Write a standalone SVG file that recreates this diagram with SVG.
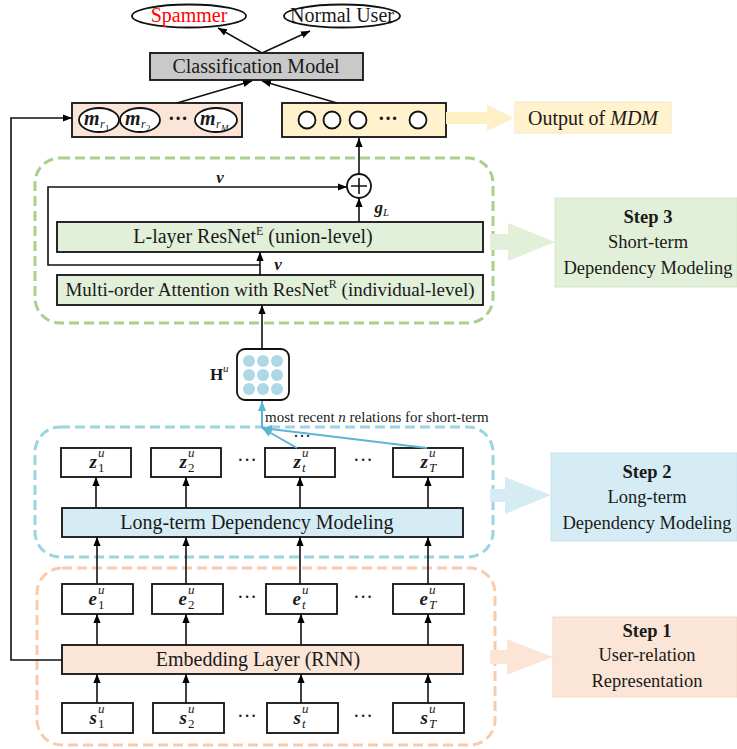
<svg xmlns="http://www.w3.org/2000/svg" width="737" height="749" viewBox="0 0 737 749" font-family="'Liberation Serif', 'DejaVu Serif', 'Times New Roman', serif">
<defs>
<marker id="ah" viewBox="0 0 10 10" refX="10" refY="5" markerWidth="9" markerHeight="9" markerUnits="userSpaceOnUse" orient="auto"><path d="M0,1 L10,5 L0,9 z" fill="#000"/></marker>
<marker id="ahb" viewBox="0 0 10 10" refX="10" refY="5" markerWidth="10" markerHeight="10" markerUnits="userSpaceOnUse" orient="auto"><path d="M0,1 L10,5 L0,9 z" fill="#5bb5d5"/></marker>
</defs>
<style>
text{font-family:'Liberation Serif','DejaVu Serif','Times New Roman',serif;fill:#1a1a1a}
.lb{font-size:20px;text-anchor:middle}
.st{font-size:18.5px;text-anchor:middle}
.stb{font-size:18.5px;text-anchor:middle;font-weight:bold}
.box{stroke:#111;stroke-width:1.8}
.w{fill:#fff}
.mi{font-size:19px;font-weight:bold;font-style:italic;text-anchor:end}
.mm{font-size:20px;font-weight:bold;font-style:italic}
.sc{font-size:13px;text-anchor:start}
.it{font-style:italic}
.dots{font-size:20px;text-anchor:middle}
.ln{stroke:#111;stroke-width:1.6;fill:none}
.bl{stroke:#5bb5d5;stroke-width:2;fill:none}
.cont{fill:none;stroke-width:3;stroke-dasharray:10 5}
</style>
<rect width="737" height="749" fill="#fff"/>

<!-- containers -->
<g id="container-step3"><rect x="35" y="158" width="458" height="165" rx="25" class="cont" stroke="#a9d18e"/></g>
<g id="container-step2"><rect x="35" y="427" width="458" height="130" rx="25" class="cont" stroke="#9dd3e5"/></g>
<g id="container-step1"><rect x="37" y="568" width="458" height="177" rx="25" class="cont" stroke="#f8cbad"/></g>

<!-- top outputs -->
<g id="spammer"><ellipse cx="189" cy="16" rx="57" ry="11.5" class="box w"/><text x="189" y="22" class="lb" style="fill:#f00">Spammer</text></g>
<g id="normal-user"><ellipse cx="342" cy="16" rx="58" ry="11.5" class="box w"/><text x="342" y="22" class="lb">Normal User</text></g>
<g id="classification-model"><rect x="150" y="53" width="213" height="27" class="box" fill="#c9c9c9"/><text x="256" y="73" class="lb">Classification Model</text></g>

<g id="m-vector"><rect x="72" y="103" width="170" height="34" class="box" fill="#fbe5d6"/>
<ellipse cx="99" cy="120" rx="20" ry="12" class="box w" stroke-width="1.5"/>
<ellipse cx="140" cy="120" rx="20" ry="12" class="box w" stroke-width="1.5"/>
<ellipse cx="216" cy="120" rx="21" ry="12" class="box w" stroke-width="1.5"/>
<text x="84" y="125" class="mm">m</text><text x="100" y="128" class="it" style="font-size:12px">r</text><text x="105" y="131" style="font-size:9px">1</text>
<text x="125" y="125" class="mm">m</text><text x="141" y="128" class="it" style="font-size:12px">r</text><text x="146" y="131" style="font-size:9px">2</text>
<text x="200" y="125" class="mm">m</text><text x="216" y="128" class="it" style="font-size:12px">r</text><text x="221" y="131" class="it" style="font-size:9px">M</text>
<text x="178" y="125" class="dots" style="font-weight:bold">···</text>
</g>

<g id="mdm-output"><rect x="282" y="103" width="164" height="34" class="box" fill="#fff2cc"/>
<circle cx="307" cy="120" r="8.5" class="box w" stroke-width="1.5"/>
<circle cx="332" cy="120" r="8.5" class="box w" stroke-width="1.5"/>
<circle cx="358" cy="120" r="8.5" class="box w" stroke-width="1.5"/>
<circle cx="418" cy="120" r="8.5" class="box w" stroke-width="1.5"/>
<text x="388" y="125" class="dots" style="font-weight:bold">···</text>
</g>

<g id="output-label">
<polygon points="446,112 487,112 487,105 514,118 487,131 487,124 446,124" fill="#fdf0c4"/>
<rect x="515" y="102" width="156" height="31" fill="#fff2cc" stroke="#f3e8c4" stroke-width="1"/>
<text x="593" y="125" class="lb">Output of <tspan class="it">MDM</tspan></text>
</g>

<!-- step 3 -->
<g id="plus"><circle cx="359" cy="186" r="12" class="box w" stroke-width="1.6"/><path d="M351,186 H367 M359,178 V194" class="ln" stroke-width="2"/></g>
<g id="l-layer-resnet"><rect x="57" y="222" width="426" height="30" class="box" fill="#e2f0d9"/><text x="253" y="243" class="lb">L-layer ResNet<tspan dy="-8" style="font-size:12px">E</tspan><tspan dy="8"> (union-level)</tspan></text></g>
<g id="multi-order-attention"><rect x="57" y="275" width="426" height="30" class="box" fill="#e2f0d9"/><text x="270" y="296" class="lb" style="font-size:19px">Multi-order Attention with ResNet<tspan dy="-8" style="font-size:12px">R</tspan><tspan dy="8"> (individual-level)</tspan></text></g>

<g id="h-matrix"><rect x="237" y="349" width="52" height="51" rx="8" class="box w"/>
<g fill="#add8e6"><circle cx="249" cy="361" r="6"/><circle cx="263" cy="361" r="6"/><circle cx="277" cy="361" r="6"/><circle cx="249" cy="375" r="6"/><circle cx="263" cy="375" r="6"/><circle cx="277" cy="375" r="6"/><circle cx="249" cy="389" r="6"/><circle cx="263" cy="389" r="6"/><circle cx="277" cy="389" r="6"/></g>
<text x="210" y="380" style="font-size:17px;font-weight:bold">H</text><text x="223" y="372" class="it" style="font-size:11px">u</text>
</g>

<g id="step3-label">
<polygon points="490,234 508,234 508,223 555,242 508,261 508,250 490,250" fill="#e2f0d9"/>
<rect x="555" y="198" width="182" height="89" fill="#e2f0d9" stroke="#d5e8c9" stroke-width="1"/>
<text x="648" y="223" class="stb">Step 3</text><text x="648" y="248" class="st">Short-term</text><text x="648" y="274" class="st">Dependency Modeling</text>
</g>
<g id="step2-label">
<polygon points="490,489 505,489 505,477 551,495 505,514 505,502 490,502" fill="#d5ecf4"/>
<rect x="551" y="453" width="186" height="88" fill="#d5ecf4" stroke="#c8e2ec" stroke-width="1"/>
<text x="647" y="478" class="stb">Step 2</text><text x="647" y="503" class="st">Long-term</text><text x="647" y="529" class="st">Dependency Modeling</text>
</g>
<g id="step1-label">
<polygon points="490,650 507,650 507,639 553,657 507,675 507,664 490,664" fill="#fbe5d6"/>
<rect x="553" y="617" width="184" height="80" fill="#fbe5d6" stroke="#f3d8c6" stroke-width="1"/>
<text x="647" y="637" class="stb">Step 1</text><text x="647" y="661" class="st">User-relation</text><text x="647" y="687" class="st">Representation</text>
</g>

<!-- step 2 -->
<g id="z-boxes">
<rect x="61" y="448" width="70" height="29" class="box w"/><rect x="151" y="448" width="70" height="29" class="box w"/><rect x="265" y="448" width="70" height="29" class="box w"/><rect x="393" y="448" width="70" height="29" class="box w"/>
<text x="97" y="468" class="mi">z</text><text x="98" y="457" class="sc it">u</text><text x="98" y="472" class="sc">1</text>
<text x="187" y="468" class="mi">z</text><text x="188" y="457" class="sc it">u</text><text x="188" y="472" class="sc">2</text>
<text x="301" y="468" class="mi">z</text><text x="302" y="457" class="sc it">u</text><text x="302" y="472" class="sc it">t</text>
<text x="428" y="468" class="mi">z</text><text x="429" y="457" class="sc it">u</text><text x="429" y="472" class="sc it">T</text>
<text x="247" y="467" class="dots">···</text><text x="363" y="467" class="dots">···</text>
<text x="302" y="442" class="dots" style="font-size:18px">···</text>
</g>
<g id="long-term"><rect x="62" y="508" width="401" height="29" class="box" fill="#d5ecf4"/><text x="257" y="529" class="lb">Long-term Dependency Modeling</text></g>

<!-- step 1 -->
<g id="e-boxes">
<rect x="62" y="584" width="71" height="30" class="box w"/><rect x="152" y="584" width="71" height="30" class="box w"/><rect x="266" y="584" width="71" height="30" class="box w"/><rect x="393" y="584" width="71" height="30" class="box w"/>
<text x="97" y="605" class="mi">e</text><text x="98" y="594" class="sc it">u</text><text x="98" y="609" class="sc">1</text>
<text x="187" y="605" class="mi">e</text><text x="188" y="594" class="sc it">u</text><text x="188" y="609" class="sc">2</text>
<text x="301" y="605" class="mi">e</text><text x="302" y="594" class="sc it">u</text><text x="302" y="609" class="sc it">t</text>
<text x="428" y="605" class="mi">e</text><text x="429" y="594" class="sc it">u</text><text x="429" y="609" class="sc it">T</text>
<text x="247" y="604" class="dots">···</text><text x="363" y="604" class="dots">···</text>
</g>
<g id="embedding-layer"><rect x="62" y="645" width="401" height="29" class="box" fill="#fbe5d6"/><text x="258" y="666" class="lb">Embedding Layer (RNN)</text></g>
<g id="s-boxes">
<rect x="62" y="703" width="71" height="30" class="box w"/><rect x="153" y="703" width="71" height="30" class="box w"/><rect x="267" y="703" width="71" height="30" class="box w"/><rect x="393" y="703" width="71" height="30" class="box w"/>
<text x="97" y="724" class="mi">s</text><text x="98" y="713" class="sc it">u</text><text x="98" y="728" class="sc">1</text>
<text x="187" y="724" class="mi">s</text><text x="188" y="713" class="sc it">u</text><text x="188" y="728" class="sc">2</text>
<text x="301" y="724" class="mi">s</text><text x="302" y="713" class="sc it">u</text><text x="302" y="728" class="sc it">t</text>
<text x="428" y="724" class="mi">s</text><text x="429" y="713" class="sc it">u</text><text x="429" y="728" class="sc it">T</text>
<text x="247" y="723" class="dots">···</text><text x="363" y="723" class="dots">···</text>
</g>

<!-- connectors -->
<g id="connectors">
<line x1="262" y1="53" x2="218" y2="28" class="ln" marker-end="url(#ah)"/>
<line x1="262" y1="53" x2="310" y2="31" class="ln" marker-end="url(#ah)"/>
<line x1="177" y1="103" x2="252" y2="81" class="ln" marker-end="url(#ah)"/>
<line x1="337" y1="103" x2="262" y2="81" class="ln" marker-end="url(#ah)"/>
<polyline points="62,660 11,660 11,118 72,118" class="ln" marker-end="url(#ah)"/>
<line x1="359" y1="174" x2="359" y2="138" class="ln" marker-end="url(#ah)"/>
<line x1="359" y1="222" x2="359" y2="198" class="ln" marker-end="url(#ah)"/>
<polyline points="260,265 48,265 48,187 347,187" class="ln" marker-end="url(#ah)"/>
<line x1="260" y1="275" x2="260" y2="252" class="ln" marker-end="url(#ah)"/>
<line x1="262" y1="349" x2="262" y2="305" class="ln" marker-end="url(#ah)"/>
<line x1="297" y1="448" x2="262" y2="428" class="bl" marker-end="url(#ahb)"/>
<line x1="427" y1="448" x2="262" y2="428" class="bl" marker-end="url(#ahb)"/>
<line x1="262" y1="428" x2="262" y2="401" class="bl" marker-end="url(#ahb)"/>
<line x1="96" y1="508" x2="96" y2="477" class="ln" marker-end="url(#ah)"/>
<line x1="186" y1="508" x2="186" y2="477" class="ln" marker-end="url(#ah)"/>
<line x1="300" y1="508" x2="300" y2="477" class="ln" marker-end="url(#ah)"/>
<line x1="428" y1="508" x2="428" y2="477" class="ln" marker-end="url(#ah)"/>
<line x1="97" y1="584" x2="97" y2="537" class="ln" marker-end="url(#ah)"/>
<line x1="186" y1="584" x2="186" y2="537" class="ln" marker-end="url(#ah)"/>
<line x1="300" y1="584" x2="300" y2="537" class="ln" marker-end="url(#ah)"/>
<line x1="428" y1="584" x2="428" y2="537" class="ln" marker-end="url(#ah)"/>
<line x1="97" y1="645" x2="97" y2="614" class="ln" marker-end="url(#ah)"/>
<line x1="186" y1="645" x2="186" y2="614" class="ln" marker-end="url(#ah)"/>
<line x1="301" y1="645" x2="301" y2="614" class="ln" marker-end="url(#ah)"/>
<line x1="428" y1="645" x2="428" y2="614" class="ln" marker-end="url(#ah)"/>
<line x1="97" y1="703" x2="97" y2="674" class="ln" marker-end="url(#ah)"/>
<line x1="186" y1="703" x2="186" y2="674" class="ln" marker-end="url(#ah)"/>
<line x1="301" y1="703" x2="301" y2="674" class="ln" marker-end="url(#ah)"/>
<line x1="428" y1="703" x2="428" y2="674" class="ln" marker-end="url(#ah)"/>
<text x="220" y="183" class="mi" style="text-anchor:middle;font-size:17px">v</text>
<text x="278" y="270" class="mi" style="text-anchor:middle;font-size:17px">v</text>
<text x="383" y="213" class="mi" style="font-size:17px">g</text><text x="383" y="216" class="it" style="font-size:11px">L</text>
<text x="265" y="422" style="font-size:15px">most recent <tspan class="it">n</tspan> relations for short-term</text>
</g>
</svg>
